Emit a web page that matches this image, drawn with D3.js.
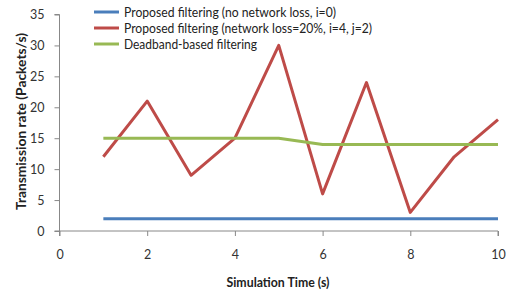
<!DOCTYPE html>
<html><head><meta charset="utf-8">
<script src="https://cdn.jsdelivr.net/npm/d3@7"></script>
<style>body{margin:0;background:#fff}</style>
</head><body>
<script>
const times = [1,2,3,4,5,6,7,8,9,10];
const noLoss = [2,2,2,2,2,2,2,2,2,2];
const withLoss = [12,21,9,15,30,6,24,3,12,18];
const deadband = [15,15,15,15,15,14,14,14,14,14];
const seriesNames = ["Proposed filtering (no network loss, i=0)","Proposed filtering (network loss=20%, i=4, j=2)","Deadband-based filtering"];
const colors = ["#4a7ebb","#be4b48","#98b954"];
const xTicks = [0,2,4,6,8,10];
const yTicks = [0,5,10,15,20,25,30,35];

const W=508,H=293;
const svg=d3.select("body").append("svg").attr("width",W).attr("height",H);
const x=d3.scaleLinear().domain([0,10]).range([59.5,498]);
const y=d3.scaleLinear().domain([0,35]).range([231,14.5]);
const font="Lato, 'Open Sans', sans-serif";

const gx=svg.append("g").attr("transform",`translate(0,${y(0)})`)
  .call(d3.axisBottom(x).tickValues(xTicks).tickSize(5).tickPadding(14));
const gy=svg.append("g").attr("transform",`translate(${x(0)},0)`)
  .call(d3.axisLeft(y).tickValues(yTicks).tickSize(5).tickPadding(10));
[gx,gy].forEach(g=>{
  g.selectAll("path,line").attr("stroke","#888");
  g.selectAll("text").attr("font-family",font).attr("font-size",12.5).attr("fill","#333");
});
gx.select(".domain").attr("d",`M${x(0)},5V0H${x(10)}V5`);
gy.select(".domain").attr("d",`M-5,${y(35)}H0V${y(0)}H-5`);

const data=[noLoss,withLoss,deadband];
const line=d3.line().x((d,i)=>x(times[i])).y(d=>y(d));
data.forEach((s,k)=>{
  svg.append("path").datum(s).attr("d",line).attr("fill","none")
    .attr("stroke",colors[k]).attr("stroke-width",3).attr("stroke-linejoin","round");
});

const leg=svg.append("g");
const legLen=[212,248,133];
seriesNames.forEach((n,k)=>{
  const yy=12+k*16;
  leg.append("line").attr("x1",94).attr("x2",119).attr("y1",yy).attr("y2",yy)
    .attr("stroke",colors[k]).attr("stroke-width",3);
  leg.append("text").attr("x",124).attr("y",yy+4.5).text(n)
    .attr("font-family",font).attr("font-size",12.8).attr("fill","#222")
    .attr("textLength",legLen[k]).attr("lengthAdjust","spacingAndGlyphs");
});

svg.append("text").attr("x",278).attr("y",287).attr("text-anchor","middle")
  .attr("font-family",font).attr("font-weight","bold").attr("font-size",12.5).attr("fill","#222")
  .attr("textLength",103).attr("lengthAdjust","spacingAndGlyphs")
  .text("Simulation Time (s)");
svg.append("text").attr("transform",`translate(26,121.5) rotate(-90)`).attr("text-anchor","middle")
  .attr("font-family",font).attr("font-weight","bold").attr("font-size",13).attr("fill","#222")
  .attr("textLength",177).attr("lengthAdjust","spacingAndGlyphs")
  .text("Transmission rate (Packets/s)");
</script>
</body></html>
